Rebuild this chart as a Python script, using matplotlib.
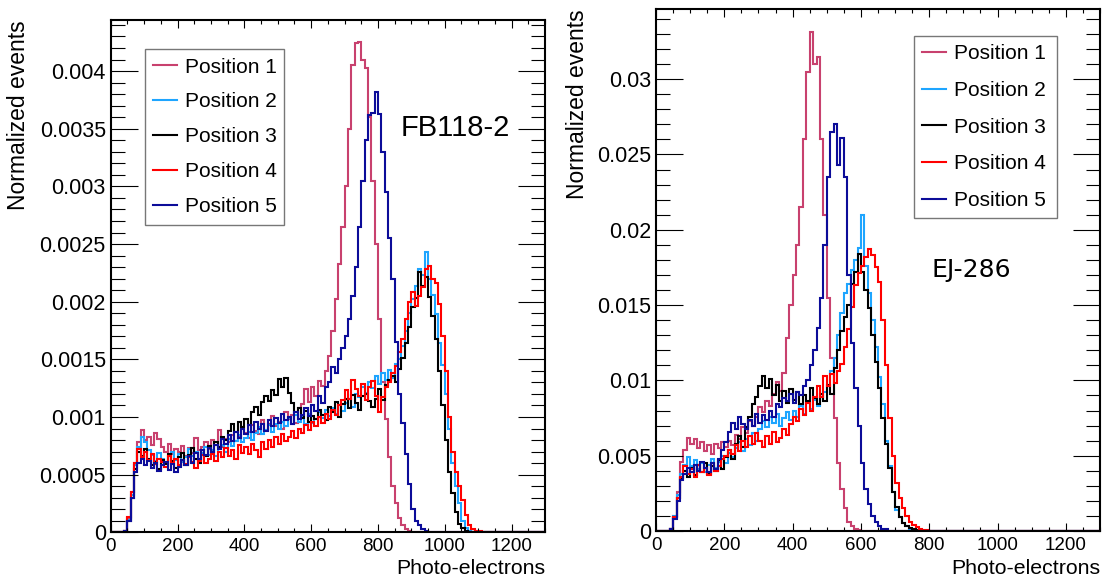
import numpy as np
import matplotlib
matplotlib.use("Agg")
import matplotlib.pyplot as plt
from matplotlib.ticker import MultipleLocator, FuncFormatter

plt.rcParams['font.family'] = ['Liberation Sans', 'DejaVu Sans']

# histogram binning: 10 photo-electrons per bin, values listed from 40 PE on
edges = np.arange(0, 1310, 10)
first_edge = 40

labels = ["Position 1", "Position 2", "Position 3", "Position 4", "Position 5"]
colors = ["#c8416e", "#1ea5ff", "#000000", "#ff0000", "#0c0c99"]

# FB118-2 (units of 1e-4)
fb_pos1 = [0.1, 1.2, 3.5, 6.0, 7.8, 8.9,
           8.0, 8.3, 7.6, 8.6, 8.1, 7.4, 7.0, 7.7, 6.8, 7.2,
           7.0, 7.5, 6.6, 7.3, 6.9, 8.2, 7.1, 7.4, 7.8, 7.2,
           8.0, 7.6, 8.9, 7.4, 8.1, 7.8, 8.4, 7.9, 8.3, 9.1,
           8.6, 8.2, 9.3, 8.8, 8.5, 9.7, 8.9, 9.4, 10.1, 9.2,
           9.6, 9.0, 10.4, 9.8, 10.2, 9.5, 10.8, 11.1, 12.4, 11.3,
           12.6, 11.8, 13.1, 12.7, 14.0, 15.3, 17.5, 20.2, 23.3, 26.5,
           30.0, 35.0, 40.5, 42.4, 42.5, 41.0, 40.3, 36.0, 30.5, 25.0,
           18.5, 13.0, 9.8, 6.5, 4.0, 2.5, 1.2, 0.6, 0.3, 0.15,
           0.05]
fb_pos2 = [0.1, 1.1, 3.2, 5.8, 7.4, 8.3,
           7.8, 7.1, 6.7, 6.2, 6.9, 6.4, 6.0, 6.6, 7.0, 6.3,
           6.8, 6.1, 6.5, 7.2, 6.6, 7.0, 6.3, 6.9, 7.4, 6.7,
           7.1, 6.6, 7.3, 7.6, 7.0, 8.1, 7.5, 7.9, 8.4, 7.8,
           8.2, 8.7, 8.0, 8.6, 9.1, 8.5, 8.9, 9.3, 8.7, 9.4,
           9.0, 9.6, 9.2, 9.9, 9.4, 10.2, 9.6, 10.0, 9.4, 10.3,
           9.5, 9.8, 10.4, 9.9, 10.6, 10.1, 10.8, 10.3, 11.0, 10.5,
           11.2, 11.6, 10.9, 12.0, 11.7, 12.6, 12.1, 13.0, 12.5, 13.6,
           12.9, 13.8, 13.2, 14.1, 13.4, 14.6, 15.0, 16.2, 17.5, 19.0,
           20.2, 21.4, 22.8, 22.3, 24.3, 22.0, 20.6, 18.9, 16.4, 14.5,
           12.0, 9.0, 6.0, 4.0, 2.5, 1.0, 0.4, 0.15, 0.05]
fb_pos3 = [0.1, 1.0, 3.0, 5.5, 7.0, 6.6,
           7.2, 6.4, 5.8, 6.1, 5.5, 6.3, 5.9, 6.8, 6.2, 5.6,
           6.5, 6.9, 5.8, 6.7, 7.3, 6.4, 6.0, 7.1, 6.6, 7.5,
           7.0, 7.8, 7.4, 8.3, 8.0, 8.8, 9.4, 8.7, 9.6, 9.1,
           9.8, 9.3, 10.4, 10.9, 10.2, 11.3, 11.8, 11.4, 12.3, 11.9,
           13.3, 12.6, 13.4, 12.1, 11.2, 10.4, 10.8, 9.9, 10.5, 9.6,
           10.1, 9.8, 10.6, 10.2, 9.7, 10.9, 10.4, 11.3, 10.0, 11.1,
           11.6, 10.8, 11.9, 11.2, 10.6, 11.8, 12.0, 11.4, 10.9, 11.6,
           12.4, 11.5, 12.8, 13.2, 13.6, 13.0, 14.2, 15.1, 16.4, 17.8,
           19.5, 20.3, 22.6, 21.4, 22.1, 20.4, 18.8, 16.8, 14.0, 11.0,
           8.0, 5.2, 3.4, 1.8, 0.7, 0.35, 0.15, 0.05]
fb_pos4 = [0.1, 1.3, 3.5, 6.0, 7.2, 6.5,
           7.0, 6.3, 6.8, 5.9, 6.4, 6.1, 5.7, 6.6, 6.0, 6.4,
           5.8, 6.3, 5.9, 6.5, 6.1, 5.6, 6.2, 6.7, 6.0, 6.4,
           6.8, 6.2, 7.0, 6.5, 7.3, 6.6, 7.1, 6.4, 7.6, 6.9,
           7.4, 6.8, 7.7, 7.1, 6.5, 7.8, 7.2, 8.0, 7.4, 8.3,
           7.7, 8.5, 7.9, 8.3, 8.8, 8.2, 9.0, 8.6, 9.3, 8.9,
           9.6, 9.2, 10.0, 9.5, 10.3, 9.8, 10.6, 10.2, 11.0, 11.5,
           12.3, 11.6, 13.2, 12.4, 11.8, 12.9, 11.5, 12.6, 13.1, 11.8,
           10.4, 11.7, 12.6, 13.0, 13.8, 14.4, 15.6, 16.8, 18.5, 20.0,
           20.8, 19.6, 20.5, 21.3, 22.8, 23.1, 22.0, 21.6, 19.8, 17.0,
           14.0, 10.0, 7.0, 5.2, 4.0, 2.8, 1.5, 0.6, 0.3, 0.15,
           0.08, 0.05]
fb_pos5 = [0.1, 1.0, 3.0, 5.2, 6.0, 6.4,
           5.8, 6.2, 5.6, 6.0, 5.3, 5.8, 6.1, 5.4, 5.9, 5.2,
           5.7, 6.3, 5.8, 6.6, 6.0, 6.9, 6.4, 7.1, 6.7, 7.3,
           7.0, 7.6, 7.2, 8.1, 7.7, 8.4, 7.9, 8.7, 8.2, 9.0,
           8.5, 9.3, 8.7, 9.6, 9.0, 9.4, 8.8, 9.7, 9.2, 9.9,
           9.5, 10.3, 9.7, 10.0, 9.4, 10.4, 9.8, 10.2, 10.8, 10.1,
           11.0, 10.5, 11.8, 11.2, 12.6, 13.0, 14.3, 13.8, 15.0, 16.0,
           17.0, 18.5, 20.5, 23.0, 26.5, 30.5, 34.0, 36.2, 36.4, 38.2,
           36.3, 33.0, 29.5, 25.5, 22.0, 16.5, 12.0, 9.5, 6.8, 4.2,
           2.0, 1.0, 0.6, 0.3, 0.15, 0.05]

# EJ-286 (units of 1e-3)
ej_pos1 = [0.1, 1.0, 2.6, 4.6, 5.4, 6.2,
           5.8, 6.1, 5.5, 5.9, 5.3, 5.7, 5.1, 5.8, 5.5, 5.9,
           5.6, 6.0, 5.7, 6.4, 6.1, 6.9, 6.5, 7.3, 7.0, 7.6,
           8.2, 7.9, 8.6, 8.3, 9.1, 9.9, 9.3, 10.5, 12.8, 15.0,
           17.0, 19.0, 21.5, 26.0, 30.5, 33.1, 31.0, 31.5, 26.0, 21.0,
           15.5, 11.5, 7.5, 4.5, 2.8, 1.5, 0.6, 0.3, 0.15, 0.05]
ej_pos2 = [0.1, 1.0, 2.4, 3.8, 4.4, 4.9,
           4.3, 4.7, 4.1, 4.5, 3.9, 4.4, 4.8, 4.2, 4.6, 5.0,
           4.5, 5.2, 4.9, 5.5, 5.9, 5.3, 6.1, 5.7, 6.5, 6.0,
           6.8, 7.3, 6.9, 7.6, 7.2, 7.8, 7.0, 7.5, 7.9, 7.4,
           8.0, 7.6, 8.3, 7.8, 8.5, 8.1, 8.7, 8.3, 8.9, 9.2,
           9.6, 10.6, 11.5, 13.0, 14.5, 15.8, 16.4, 17.3, 18.0, 18.8,
           21.0, 17.6, 15.8, 14.0, 12.2, 10.2, 8.4, 6.0, 4.3, 2.6,
           1.4, 0.9, 0.5, 0.3, 0.15, 0.05]
ej_pos3 = [0.1, 0.9, 2.2, 3.5, 4.0, 3.6,
           4.2, 3.7, 4.4, 3.9, 4.5, 3.8, 4.3, 4.0, 4.7, 4.1,
           4.9, 5.4, 4.8, 5.8, 6.3, 5.6, 6.9, 7.6, 8.4, 8.9,
           9.6, 10.3, 9.5, 10.1, 9.0, 9.7, 8.6, 9.3, 8.5, 9.4,
           8.7, 9.2, 8.4, 9.0, 8.6, 9.5, 8.8, 8.4, 9.1, 8.6,
           9.7, 9.1, 10.8, 12.0, 13.3, 14.2, 15.0, 16.4, 17.2, 18.4,
           17.2, 16.0, 14.8, 13.0, 11.2, 9.5, 7.5, 5.8, 4.2, 2.6,
           1.6, 0.9, 0.5, 0.3, 0.2, 0.1, 0.05]
ej_pos4 = [0.1, 0.9, 2.2, 3.6, 4.3, 3.8,
           4.1, 3.6, 4.4, 3.9, 4.2, 3.7, 4.5, 4.0, 4.3, 4.8,
           5.0, 5.4, 5.1, 5.7, 5.3, 6.0, 5.6, 6.3, 5.8, 6.5,
           6.0, 5.6, 6.3, 5.8, 6.6, 5.9, 6.2, 6.8, 6.4, 7.1,
           7.6, 7.3, 8.1, 7.7, 8.5, 8.0, 8.9, 9.6, 8.9, 10.3,
           9.6, 10.4, 9.8, 10.6, 11.1, 12.2, 13.4, 14.9, 16.3, 17.1,
           17.6, 18.2, 18.7, 18.3, 17.5, 16.5, 14.0, 11.0, 7.5, 5.0,
           3.2, 2.2, 1.5, 1.0, 0.6, 0.4, 0.25, 0.15, 0.08, 0.05]
ej_pos5 = [0.1, 0.8, 2.0, 3.4, 3.8, 4.2,
           3.9, 4.4, 4.0, 4.6, 4.2, 3.9, 4.5, 4.1, 4.8, 5.4,
           5.9, 6.6, 7.2, 6.8, 7.6, 7.1, 6.8, 7.4, 7.0, 7.8,
           7.2, 7.7, 7.4, 8.0, 7.6, 8.4, 8.2, 8.8, 8.6, 9.1,
           8.5, 9.2, 9.0, 9.6, 10.0, 11.0, 12.0, 13.5, 15.5, 19.0,
           23.5, 26.5, 27.0, 24.3, 26.1, 23.5, 17.0, 12.5, 9.5, 7.0,
           4.5, 2.8, 1.8, 1.0, 0.6, 0.3, 0.15, 0.1]

fb_series = [fb_pos1, fb_pos2, fb_pos3, fb_pos4, fb_pos5]
ej_series = [ej_pos1, ej_pos2, ej_pos3, ej_pos4, ej_pos5]


def full_hist(vals, scale):
    h = np.zeros(len(edges) - 1)
    i0 = first_edge // 10
    h[i0:i0 + len(vals)] = np.array(vals) * scale
    return h


def style_axes(ax, ymax, ymaj, ymin):
    ax.set_xlim(0, 1300)
    ax.set_ylim(0, ymax)
    ax.xaxis.set_major_locator(MultipleLocator(200))
    ax.xaxis.set_minor_locator(MultipleLocator(50))
    ax.yaxis.set_major_locator(MultipleLocator(ymaj))
    ax.yaxis.set_minor_locator(MultipleLocator(ymin))
    ax.yaxis.set_major_formatter(FuncFormatter(lambda v, p: "%g" % round(v, 6)))
    ax.xaxis.set_major_formatter(FuncFormatter(lambda v, p: "%g" % v))
    ax.tick_params(which='both', direction='in', top=True, right=True, width=0.8)
    ax.tick_params(axis='y', which='major', length=19.5, labelsize=15.5, pad=3.5)
    ax.tick_params(axis='y', which='minor', length=10)
    ax.tick_params(axis='x', which='major', length=6, labelsize=13.5, pad=4)
    ax.tick_params(axis='x', which='minor', length=3)
    for s in ax.spines.values():
        s.set_linewidth(1.5)
    ax.set_ylabel("Normalized events", fontsize=16.5, loc='top')
    ax.yaxis.label.set_va('center')
    ax.set_xlabel("Photo-electrons", fontsize=15.3, loc='right')
    ax.xaxis.label.set_va('baseline')


fig = plt.figure(figsize=(11.05, 5.8), dpi=100)
ax1 = fig.add_axes([0.1002, 0.0822, 0.3930, 0.8833])
ax2 = fig.add_axes([0.5937, 0.0845, 0.4018, 0.8995])

for vals, lab, c in zip(fb_series, labels, colors):
    ax1.stairs(full_hist(vals, 1e-4), edges, color=c, lw=1.5, label=lab)
for vals, lab, c in zip(ej_series, labels, colors):
    ax2.stairs(full_hist(vals, 1e-3), edges, color=c, lw=1.5, label=lab)

style_axes(ax1, 0.004443, 0.0005, 0.0001)
style_axes(ax2, 0.03464, 0.005, 0.001)
ax1.yaxis.set_label_coords(-0.2135, 1.0)
ax2.yaxis.set_label_coords(-0.178, 1.0)
ax1.xaxis.set_label_coords(1.0, -0.0814)
ax2.xaxis.set_label_coords(1.0, -0.0824)

ax1.text(0.668, 0.7736, "FB118-2", transform=ax1.transAxes, fontsize=21,
         va='baseline', ha='left')
ax2.text(0.6205, 0.487, "EJ-286", transform=ax2.transAxes, fontsize=18,
         va='baseline', ha='left', family='DejaVu Sans')

leg_kw = dict(loc='upper left', mode='expand', fontsize=15, frameon=True,
              fancybox=False, borderaxespad=0, handlelength=1.15,
              handletextpad=0.35, borderpad=0.4)
l1 = ax1.legend(bbox_to_anchor=(0.079, 0.0, 0.32, 0.943),
                labelspacing=0.765, **leg_kw)
l2 = ax2.legend(bbox_to_anchor=(0.581, 0.0, 0.322, 0.949),
                labelspacing=0.85, **leg_kw)
for lg in (l1, l2):
    lg.get_frame().set_edgecolor('#555555')
    lg.get_frame().set_linewidth(1.0)
    for h in lg.legend_handles:
        h.set_linewidth(1.5)

fig.savefig("out.png", dpi=100, facecolor='white')
